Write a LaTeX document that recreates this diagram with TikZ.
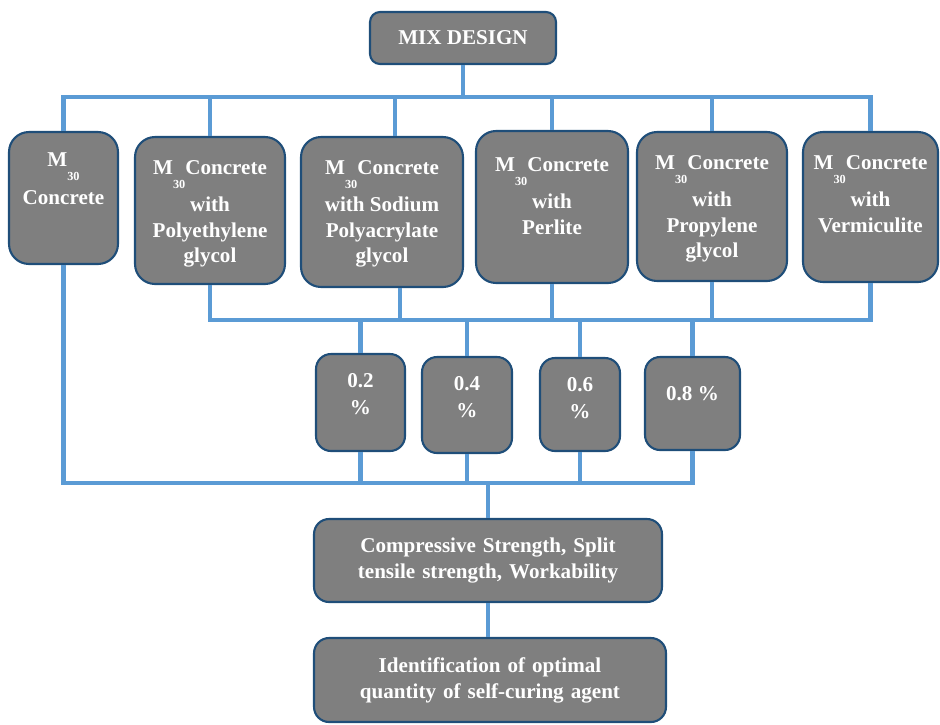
\documentclass[tikz,border=0pt]{standalone}
\usepackage{fontspec}
\setmainfont{Liberation Serif}
\definecolor{boxgray}{HTML}{7F7F7F}
\definecolor{boxedge}{HTML}{1F4E79}
\definecolor{wireblue}{HTML}{5B9BD5}
\newcommand{\lowidx}[1]{\smash{\raisebox{-8pt}{\fontsize{7}{7}\selectfont #1}}}
\newcommand{\topfill}[4]{\parbox[c][#2][t]{#1}{\centering\vspace*{#3}#4\par}}
\begin{document}
\begin{tikzpicture}[x=0.02cm,y=-0.02cm,
  agent/.style={draw=boxedge,fill=boxgray,line width=1.2pt,rounded corners=0.4cm,
    inner sep=0pt,text=white,font=\fontsize{12}{14.7}\selectfont\bfseries},
  wire/.style={draw=wireblue,line width=2.8pt}]
\useasboundingbox (0,0) rectangle (940,724);

% boxes
\node[agent,rounded corners=0.2cm,minimum width=3.72cm,minimum height=1.04cm] (mix) at (463,38) {MIX DESIGN};

\node[agent] (c1) at (63.5,198) {\topfill{2.18cm}{2.64cm}{11.9pt}{M\lowidx{30}\\[6.8pt] Concrete}};
\node[agent] (c2) at (210,210.5) {\topfill{3cm}{2.94cm}{13.6pt}{M\lowidx{30}Concrete\\[6pt] with\\ Polyethylene\\ glycol}};
\node[agent] (c3) at (382,212) {\topfill{3.24cm}{3cm}{13.6pt}{M\lowidx{30}Concrete\\[6pt] with Sodium\\ Polyacrylate\\ glycol}};
\node[agent] (c4) at (552,207) {\topfill{3.04cm}{3.04cm}{15.3pt}{M\lowidx{30}Concrete\\[6pt] with\\ Perlite}};
\node[agent] (c5) at (712,206.5) {\topfill{3cm}{2.98cm}{13.6pt}{M\lowidx{30}Concrete\\[6pt] with\\ Propylene\\ glycol}};
\node[agent] (c6) at (870.5,207) {\topfill{2.7cm}{3cm}{13.6pt}{M\lowidx{30}Concrete\\[6pt] with\\ Vermiculite}};

\node[agent,rounded corners=0.3cm] (p2) at (360.5,402.5) {\topfill{1.78cm}{1.94cm}{10.8pt}{0.2\\[1.2pt] \%}};
\node[agent,rounded corners=0.3cm] (p4) at (467,405) {\topfill{1.8cm}{1.92cm}{10.8pt}{0.4\\[1.2pt] \%}};
\node[agent,rounded corners=0.3cm] (p6) at (580,404.5) {\topfill{1.6cm}{1.86cm}{10.8pt}{0.6\\[1.2pt] \%}};
\node[agent,rounded corners=0.3cm] (p8) at (692.5,403.5) {\topfill{1.9cm}{1.86cm}{17pt}{0.8 \%}};

\node[agent,rounded corners=0.3cm,minimum width=6.96cm,minimum height=1.66cm,text width=6.96cm,align=center] (res) at (488,560.5) {Compressive Strength, Split\\ tensile strength, Workability};
\node[agent,rounded corners=0.3cm,minimum width=7.04cm,minimum height=1.68cm,text width=7.04cm,align=center] (opt) at (490,680) {Identification of optimal\\ quantity of self-curing agent};

% connectors
\coordinate (tb) at (463,97);
\coordinate (mb) at (551,320);
\coordinate (lb) at (488,483);
\coordinate (c3t) at ([xshift=0.26cm]c3.north);
\coordinate (c3b) at ([xshift=0.36cm]c3.south);

\draw[wire] (mix) -- (tb);
\draw[wire] (c1.north) |- (tb) -| (c6.north);
\foreach \b in {c2,c4,c5} \draw[wire] (\b.north) -- (\b.north |- tb);
\draw[wire] (c3t) -- (c3t |- tb);

\draw[wire] (c2.south) |- (mb) -| (c6.south);
\foreach \b in {c4,c5} \draw[wire] (\b.south) -- (\b.south |- mb);
\draw[wire] (c3b) -- (c3b |- mb);
\foreach \p in {p2,p4,p6,p8} \draw[wire] (\p.north |- mb) -- (\p.north);

\draw[wire] (c1.south) |- (lb) -| (p8.south);
\foreach \p in {p2,p4,p6} \draw[wire] (\p.south) -- (\p.south |- lb);
\draw[wire] (lb) -- (res);
\draw[wire] (res.south) -- (res.south |- opt.north);
\end{tikzpicture}
\end{document}
